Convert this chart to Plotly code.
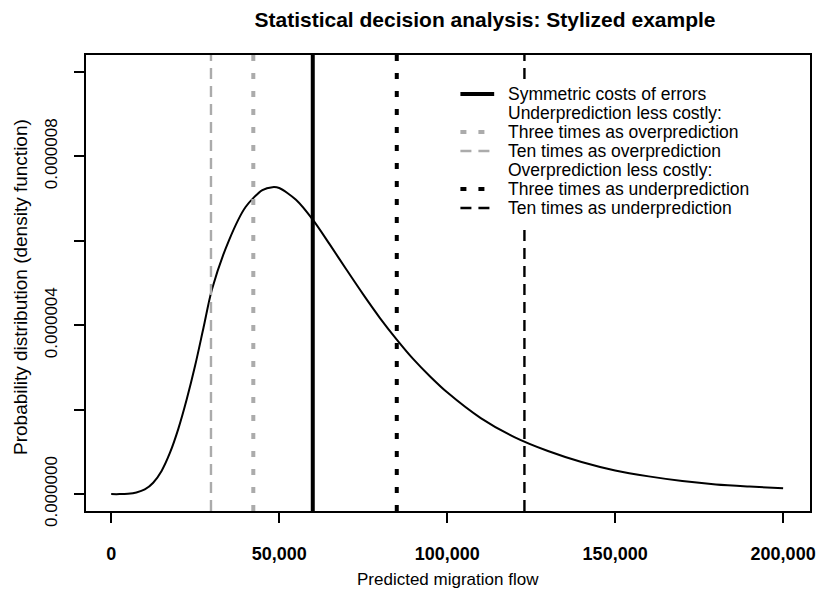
import plotly.graph_objects as go

# ---------------- data ----------------
flow = [0, 2500, 5000, 7500, 10000, 12500, 15000, 17500, 20000, 22500, 25000, 27500, 30000,
        35000, 40000, 45000, 48000, 50000, 55000, 60000, 65000, 70000, 75000, 80000, 85000,
        90000, 95000, 100000, 110000, 120000, 130000, 140000, 150000, 160000, 170000, 180000,
        190000, 200000]
density = [0.0, 0.0, 0.01e-6, 0.04e-6, 0.11e-6, 0.27e-6, 0.55e-6, 0.98e-6, 1.55e-6, 2.25e-6,
           3.05e-6, 3.95e-6, 4.85e-6, 6.0e-6, 6.8e-6, 7.2e-6, 7.27e-6, 7.25e-6, 6.97e-6, 6.5e-6,
           5.92e-6, 5.32e-6, 4.73e-6, 4.17e-6, 3.66e-6, 3.19e-6, 2.78e-6, 2.41e-6, 1.80e-6,
           1.35e-6, 1.02e-6, 0.76e-6, 0.56e-6, 0.42e-6, 0.31e-6, 0.23e-6, 0.18e-6, 0.14e-6]

decision_labels = ["Symmetric costs of errors",
                   "Three times as overprediction",
                   "Ten times as overprediction",
                   "Three times as underprediction",
                   "Ten times as underprediction"]
decision_values = [60000, 42300, 29700, 85000, 123000]

legend_rows = ["Symmetric costs of errors",
               "Underprediction less costly:",
               "Three times as overprediction",
               "Ten times as overprediction",
               "Overprediction less costly:",
               "Three times as underprediction",
               "Ten times as underprediction"]

x_ticks = [0, 50000, 100000, 150000, 200000]
x_tick_text = ["0", "50,000", "100,000", "150,000", "200,000"]
y_ticks = [0, 2e-6, 4e-6, 6e-6, 8e-6, 1e-5]
y_tick_text = ["0.000000", "", "0.000004", "", "0.000008", ""]

# ---------------- styles ----------------
GREY = "#ABABAB"
styles = {
    "Symmetric costs of errors": dict(color="black", width=4, dash="solid"),
    "Three times as overprediction": dict(color=GREY, width=4, dash="6px,12px"),
    "Ten times as overprediction": dict(color=GREY, width=2.4, dash="11px,7px"),
    "Three times as underprediction": dict(color="black", width=4, dash="6px,12px"),
    "Ten times as underprediction": dict(color="black", width=2.4, dash="11px,7px"),
}

W, H = 827, 590
L, R, T, B = 86, 12, 55, 79
PW, PH = W - L - R, H - T - B
FONT = "Arial, Liberation Sans, sans-serif"


def px(xp):
    return (xp - L) / PW


def py(yp):
    return (H - B - yp) / PH


fig = go.Figure()
fig.add_trace(go.Scatter(x=flow, y=density, mode="lines",
                         line=dict(color="black", width=2, shape="spline", smoothing=0.8),
                         showlegend=False, hoverinfo="skip"))

shapes = []
for lab, val in zip(decision_labels, decision_values):
    shapes.append(dict(type="line", xref="x", yref="paper", x0=val, x1=val, y0=0, y1=1,
                       line=styles[lab], layer="above"))

# legend background (white, no border)
shapes.append(dict(type="rect", xref="paper", yref="paper", x0=px(455), x1=px(790),
                   y0=py(229), y1=py(80), fillcolor="white", line=dict(width=0), layer="above"))

annotations = []
row0, step = 94, 19
for i, lab in enumerate(legend_rows):
    yy = row0 + i * step
    if lab in styles:
        shapes.append(dict(type="line", xref="paper", yref="paper", x0=px(463), x1=px(497),
                           y0=py(yy), y1=py(yy), line=styles[lab], layer="above"))
    annotations.append(dict(text=lab, xref="paper", yref="paper", x=px(509), y=py(yy),
                            xanchor="left", yanchor="middle", showarrow=False,
                            font=dict(family=FONT, size=17.5, color="black")))

annotations.append(dict(text="Predicted migration flow", xref="paper", yref="paper", x=0.5, y=0,
                        yshift=-(579 - (H - B)), xanchor="center", yanchor="middle", showarrow=False,
                        borderpad=0, font=dict(family=FONT, size=17, color="black")))
annotations.append(dict(text="Probability distribution (density function)", xref="paper", yref="paper",
                        x=0, xshift=-(L - 20), y=0.5, yshift=-4, textangle=-90, xanchor="center",
                        yanchor="middle", showarrow=False, font=dict(family=FONT, size=19, color="black")))

fig.update_layout(
    width=W, height=H,
    margin=dict(l=L, r=R, t=T, b=B),
    paper_bgcolor="white", plot_bgcolor="white",
    title=dict(text="<b>Statistical decision analysis: Stylized example</b>", x=485 / W,
               xanchor="center", y=1 - 20 / H, yanchor="middle", yref="container",
               font=dict(family=FONT, size=21, color="black")),
    shapes=shapes, annotations=annotations,
    showlegend=False,
)
fig.update_xaxes(range=[-7500, 208000], showgrid=False, zeroline=False, showline=True, mirror=True,
                 linecolor="black", linewidth=2, ticks="outside", ticklen=10, tickwidth=2,
                 tickcolor="black", tickvals=x_ticks, ticktext=x_tick_text, ticklabelstandoff=15,
                 tickfont=dict(family=FONT, size=18, color="black", weight="bold"))
fig.update_yaxes(range=[-4e-7, 1.04e-5], showgrid=False, zeroline=False, showline=True, mirror=True,
                 linecolor="black", linewidth=2, ticks="outside", ticklen=10, tickwidth=2,
                 tickcolor="black", tickvals=y_ticks, ticktext=y_tick_text, tickangle=-90,
                 ticklabelstandoff=10, tickfont=dict(family=FONT, size=17, color="black"))

fig.write_html("out.html", config={"displayModeBar": False},
               post_script="document.body.style.margin='0px';")
